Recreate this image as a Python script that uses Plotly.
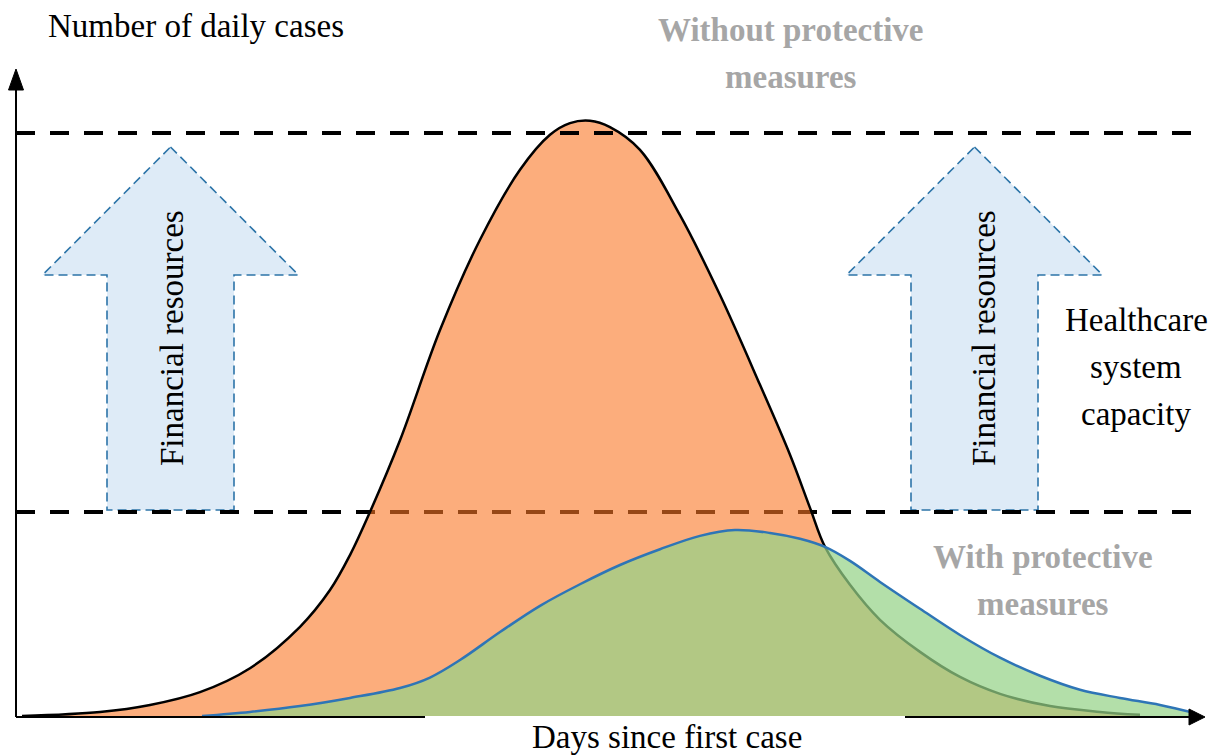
import plotly.graph_objects as go

# ---------------- data (days since first case, daily cases) ----------------
days_without = [0.6, 8.4, 13.4, 18.4, 23.4, 28.4, 31.4, 33.4, 35.4, 38.4, 42.4, 46.4, 50.4,
                53.4, 55.4, 57.4, 59.4, 62.4, 66.4, 70.4, 74.4, 77.4, 79.4, 80.9, 83.4,
                86.4, 90.4, 94.4, 98.4, 103.4, 108.4, 112.4]
cases_without = [0.0, 0.7, 1.9, 4.1, 8.2, 15.3, 21.6, 27.6, 35.0, 47.3, 66.2, 81.7, 93.7,
                 99.7, 101.7, 102.1, 101.0, 97.1, 85.9, 72.2, 56.8, 44.8, 35.7, 29.0, 22.5,
                 16.5, 11.0, 6.7, 3.8, 1.7, 0.7, 0.2]

days_with = [18.6, 23.4, 28.4, 33.4, 38.4, 41.4, 44.4, 48.4, 52.4, 56.4, 60.4, 64.4, 68.4,
             71.9, 75.4, 78.4, 80.9, 83.4, 86.4, 90.4, 94.4, 98.4, 102.4, 106.4, 110.4,
             114.4, 117.9]
cases_with = [0.0, 0.7, 1.7, 3.1, 4.8, 6.6, 9.6, 14.4, 18.9, 22.6, 25.9, 28.6, 30.9,
              31.9, 31.4, 30.4, 29.0, 26.6, 23.0, 18.4, 13.9, 10.0, 6.9, 4.5, 3.1,
              1.9, 0.5]

capacity_levels = [35.0, 100.0]  # healthcare system capacity (before / after resources)

labels = {
    "y_title": "Number of daily cases",
    "x_title": "Days since first case",
    "without": ["Without protective", "measures"],
    "with": ["With protective", "measures"],
    "capacity": ["Healthcare", "system", "capacity"],
    "arrow": "Financial resources",
}

# ---------------- canvas geometry ----------------
# The page body adds an 8px margin, so the figure is 8px smaller and all
# reference pixel positions are shifted by -8.
OFF = 8
W, H = 1218 - OFF, 756 - OFF
X0_PX, Y0_PX = 16, 716          # reference pixel position of the origin
PX_PER_DAY, PX_PER_CASE = 10.0, 5.83


def dx(px):
    return (px - X0_PX) / PX_PER_DAY


def dy(py):
    return (Y0_PX - py) / PX_PER_CASE


def pfx(px):
    return (px - OFF) / W


def pfy(py):
    return 1 - (py - OFF) / H


SERIF = "Liberation Serif, Times New Roman, serif"
FS = 33
ORANGE = "rgba(250,118,36,0.6)"
GREEN = "rgba(150,210,136,0.72)"
BLUE = "#2E75B6"
ARROW_FILL = "#DEEBF7"
ARROW_LINE = "#2C74A8"
GRAY = "#A6A6A6"

fig = go.Figure()

fig.add_trace(go.Scatter(
    x=days_without, y=cases_without, mode="lines",
    line=dict(color="black", width=2.5, shape="spline", smoothing=1.0),
    fill="tozeroy", fillcolor=ORANGE, hoverinfo="skip", showlegend=False))

fig.add_trace(go.Scatter(
    x=days_with, y=cases_with, mode="lines",
    line=dict(color=BLUE, width=2.5, shape="spline", smoothing=1.0),
    fill="tozeroy", fillcolor=GREEN, hoverinfo="skip", showlegend=False))

shapes = []


def arrow_path(cx_px):
    tip_y, head_y, bot_y = 147, 275, 510
    hw, sw = 128, 63.5
    pts = [(cx_px, tip_y), (cx_px + hw, head_y), (cx_px + sw, head_y), (cx_px + sw, bot_y),
           (cx_px - sw, bot_y), (cx_px - sw, head_y), (cx_px - hw, head_y)]
    return "M " + " L ".join(f"{dx(a):.3f},{dy(b):.3f}" for a, b in pts) + " Z"


for cx in (170.5, 974.5):
    shapes.append(dict(type="path", path=arrow_path(cx), xref="x", yref="y",
                       fillcolor=ARROW_FILL, line=dict(color=ARROW_LINE, width=1.6, dash="9px,5px"),
                       layer="below"))

# capacity lines
shapes.append(dict(type="line", xref="x", yref="y", x0=dx(16), x1=dx(1197),
                   y0=capacity_levels[0], y1=capacity_levels[0],
                   line=dict(color="black", width=4, dash="19px,15px"), layer="below"))
shapes.append(dict(type="line", xref="x", yref="y", x0=dx(16), x1=dx(1197),
                   y0=capacity_levels[1], y1=capacity_levels[1],
                   line=dict(color="black", width=4, dash="19px,15px"), layer="above"))

# axes
shapes.append(dict(type="line", xref="x", yref="y", x0=dx(16), x1=dx(16), y0=dy(717), y1=dy(86),
                   line=dict(color="black", width=2), layer="above"))
shapes.append(dict(type="path", xref="x", yref="y",
                   path=f"M {dx(16)},{dy(69)} L {dx(23.5)},{dy(90)} L {dx(8.5)},{dy(90)} Z",
                   fillcolor="black", line=dict(color="black", width=1), layer="above"))
shapes.append(dict(type="line", xref="x", yref="y", x0=dx(16), x1=dx(425), y0=dy(717), y1=dy(717),
                   line=dict(color="black", width=2), layer="above"))
shapes.append(dict(type="line", xref="x", yref="y", x0=dx(905), x1=dx(1192), y0=dy(717), y1=dy(717),
                   line=dict(color="black", width=2), layer="above"))
shapes.append(dict(type="path", xref="x", yref="y",
                   path=f"M {dx(1205)},{dy(717)} L {dx(1189)},{dy(709)} L {dx(1189)},{dy(725)} Z",
                   fillcolor="black", line=dict(color="black", width=1), layer="above"))

ann = []


def text(t, px, py, size=FS, color="black", bold=False, angle=0):
    ann.append(dict(text=f"<b>{t}</b>" if bold else t, x=pfx(px), y=pfy(py), xref="paper", yref="paper",
                    xanchor="center", yanchor="middle", showarrow=False, textangle=angle,
                    font=dict(family=SERIF, size=size, color=color)))


text(labels["y_title"], 196, 26)
text(labels["x_title"], 667, 737)
for i, t in enumerate(labels["without"]):
    text(t, 791, 30 + 47 * i, color=GRAY, bold=True)
for i, t in enumerate(labels["with"]):
    text(t, 1043, 557 + 47 * i, color=GRAY, bold=True)
for i, t in enumerate(labels["capacity"]):
    text(t, 1136, 320 + 47 * i)
text(labels["arrow"], 172, 338, angle=-90)
text(labels["arrow"], 984, 338, angle=-90)

fig.update_layout(
    width=W, height=H, margin=dict(l=0, r=0, t=0, b=0),
    paper_bgcolor="white", plot_bgcolor="white",
    xaxis=dict(range=[dx(OFF), dx(OFF + W)], visible=False, fixedrange=True),
    yaxis=dict(range=[dy(OFF + H), dy(OFF)], visible=False, fixedrange=True),
    shapes=shapes, annotations=ann, showlegend=False, hovermode=False,
)

fig.write_html("out.html", config={"displayModeBar": False})
